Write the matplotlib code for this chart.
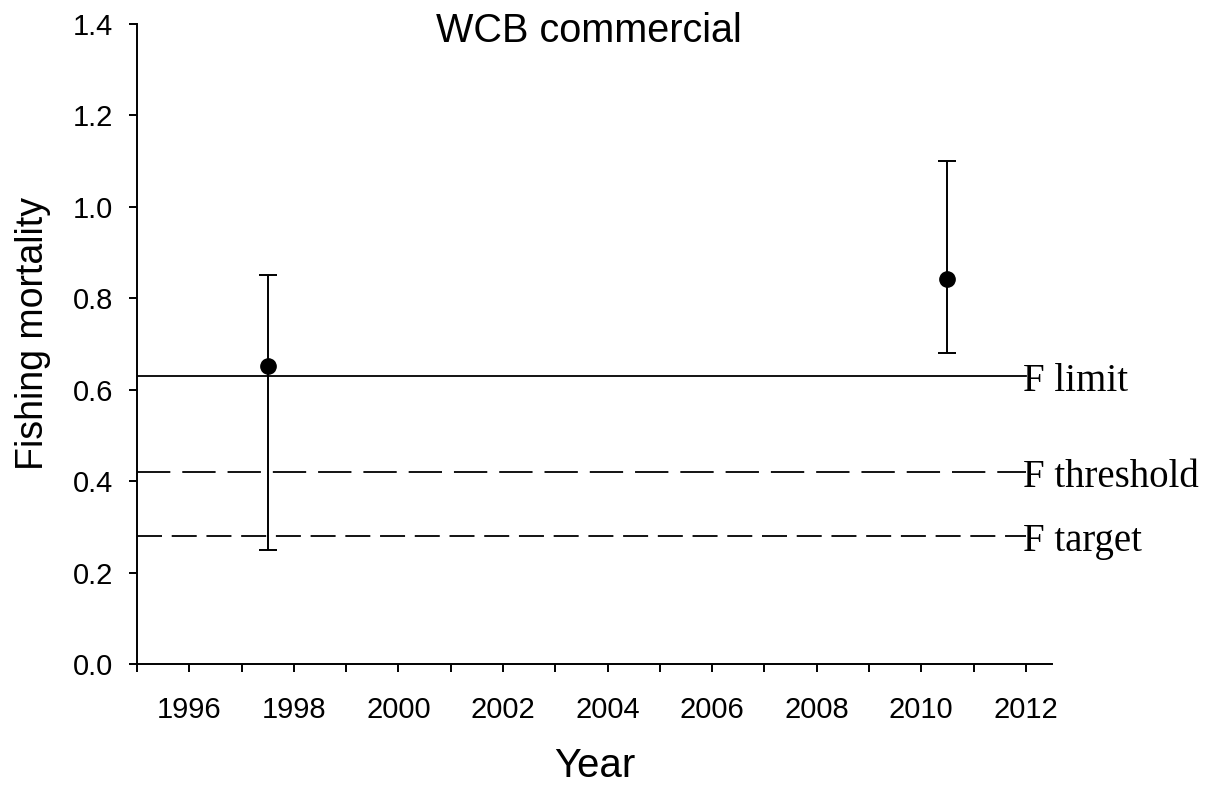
import numpy as np
import matplotlib
matplotlib.use('Agg')
from matplotlib import pyplot as plt
from matplotlib.ticker import MultipleLocator, FixedLocator

# point estimates with confidence limits
years = [1997.5, 2010.5]
f_est = [0.652, 0.843]
f_upper = [0.85, 1.10]
f_lower = [0.25, 0.68]

# reference points
ref_names = ['F limit', 'F threshold', 'F target']
ref_values = [0.63, 0.42, 0.28]

x_major = [1996, 1998, 2000, 2002, 2004, 2006, 2008, 2010, 2012]
y_ticks = [0.0, 0.2, 0.4, 0.6, 0.8, 1.0, 1.2, 1.4]

plt.rcParams['font.family'] = ['Liberation Sans', 'DejaVu Sans']
plt.rcParams['lines.scale_dashes'] = False

fig = plt.figure(figsize=(12.18, 7.85), dpi=100)
ax = fig.add_axes([137/1218, 121/785, 915/1218, 640/785])

dash_styles = ['-', (0, (24, 8.6)), (0, (18, 7))]
for name, val, ls in zip(ref_names, ref_values, dash_styles):
    ax.plot([1995, 2012], [val, val], color='black', lw=1.3, linestyle=ls)
    ax.annotate(name, xy=(2012, val), xytext=(-2, -4), textcoords='offset points',
                family=['Liberation Serif', 'DejaVu Serif'], fontsize=28,
                ha='left', va='center')

est = np.array(f_est)
yerr = [est - np.array(f_lower), np.array(f_upper) - est]
ax.errorbar(years, est, yerr=yerr, fmt='o', color='black', ms=11, elinewidth=1.4,
            capsize=6.5, capthick=1.4)

ax.set_xlim(1995, 2012.5)
ax.set_ylim(0, 1.4)
ax.xaxis.set_major_locator(FixedLocator(x_major))
ax.xaxis.set_minor_locator(MultipleLocator(1))
ax.set_yticks(y_ticks)
ax.set_yticklabels([f'{v:.1f}' for v in y_ticks])
ax.tick_params(axis='both', which='both', direction='out', length=6, width=1.4, labelsize=21)
ax.tick_params(axis='x', which='major', pad=17)
ax.tick_params(axis='y', pad=11)
for s in ['top', 'right']:
    ax.spines[s].set_visible(False)
for s in ['left', 'bottom']:
    ax.spines[s].set_linewidth(1.4)

ax.text(0.494, 0.972, 'WCB commercial', transform=ax.transAxes, ha='center', va='baseline', fontsize=28.5)
fig.text(595/1218, 8/785, 'Year', ha='center', va='baseline', fontsize=29)
fig.text(33/1218, 0.575, 'Fishing mortality', ha='center', va='center', rotation=90, fontsize=27)

fig.savefig('out.png', dpi=100)
